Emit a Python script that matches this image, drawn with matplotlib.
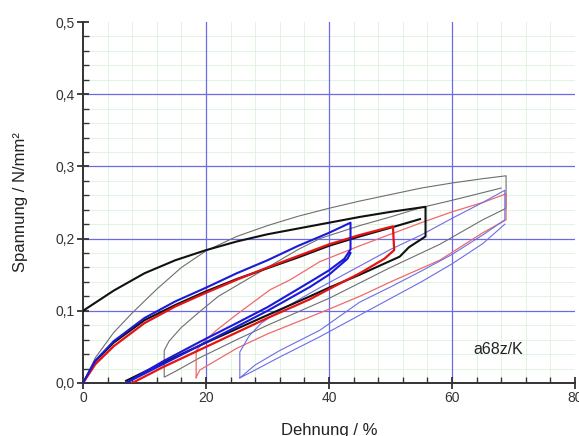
import numpy as np
import matplotlib.pyplot as plt
from matplotlib.ticker import MultipleLocator, FuncFormatter

plt.rcParams['font.family'] = ['Liberation Sans', 'DejaVu Sans']

# Kurven (Dehnung in %, Spannung in N/mm²)
schwarz_x = [0, 5, 10, 15, 20, 25, 30, 35, 40, 45, 50, 55.7, 55.7, 53, 51.5, 45, 40, 36.9, 30, 25, 19, 13, 7]
schwarz_y = [0.100, 0.128, 0.152, 0.170, 0.184, 0.196, 0.206, 0.214, 0.222, 0.230, 0.237, 0.244,
             0.203, 0.188, 0.175, 0.150, 0.132, 0.120, 0.094, 0.075, 0.052, 0.028, 0.003]
schwarz2_x = [0, 2, 5, 10, 15, 20, 25, 30, 35, 40, 45, 50, 54.8]
schwarz2_y = [0, 0.030, 0.056, 0.087, 0.108, 0.127, 0.144, 0.159, 0.174, 0.190, 0.203, 0.215, 0.227]

blau_x = [0, 2, 5, 10, 15, 20, 25, 30, 35, 40, 43.5, 43.5, 42.5, 40, 36.9, 30, 25, 19, 13, 7,
          13, 19, 25, 30, 36.9, 40, 43, 43.5]
blau_y = [0, 0.031, 0.058, 0.090, 0.113, 0.132, 0.152, 0.170, 0.190, 0.208, 0.222, 0.185, 0.172,
          0.156, 0.140, 0.105, 0.083, 0.057, 0.030, 0.0,
          0.026, 0.052, 0.078, 0.100, 0.133, 0.150, 0.172, 0.180]

rot_x = [0, 2, 5, 10, 15, 20, 25, 30, 35, 40, 45, 50.4, 50.6, 49, 45, 40, 36.9, 30, 25, 19, 13, 8]
rot_y = [0, 0.026, 0.051, 0.083, 0.106, 0.125, 0.143, 0.160, 0.176, 0.192, 0.205, 0.217,
         0.184, 0.172, 0.152, 0.130, 0.116, 0.090, 0.070, 0.046, 0.022, 0.0]

grau_x = [0, 2, 5, 8, 12, 16, 20, 25, 30, 35, 40, 45, 50, 55, 60, 65, 68.8, 68.8, 65, 58, 50, 40.2,
          30, 25, 19, 15, 13.2, 13.2, 14, 16, 19, 22, 26.6, 30, 35, 38.5, 45, 50, 55, 60, 68]
grau_y = [0, 0.035, 0.070, 0.097, 0.130, 0.160, 0.183, 0.203, 0.218, 0.231, 0.242, 0.252, 0.261,
          0.270, 0.277, 0.283, 0.287, 0.242, 0.226, 0.192, 0.160, 0.118, 0.080, 0.060, 0.035,
          0.016, 0.008, 0.045, 0.058, 0.077, 0.099, 0.120, 0.143, 0.160, 0.185, 0.200, 0.218,
          0.230, 0.243, 0.253, 0.270]

rosa_x = [18.4, 18.4, 20, 21.7, 25, 30.4, 33.7, 38.5, 45, 50, 55, 60, 65, 68.8, 68.8, 65, 58, 50,
          45, 38.5, 30, 25, 19, 18.4]
rosa_y = [0.007, 0.045, 0.060, 0.073, 0.095, 0.129, 0.143, 0.168, 0.190, 0.206, 0.222, 0.237,
          0.250, 0.262, 0.226, 0.208, 0.170, 0.140, 0.120, 0.097, 0.068, 0.048, 0.018, 0.008]

hellblau_x = [25.5, 25.5, 27, 29, 32, 35, 38.5, 45, 50, 55, 60, 65, 68.6, 68.6, 65, 60, 55, 50, 45,
              38.5, 32, 28, 25.5, 28, 32, 38.5, 45, 50, 55, 60, 65, 68.6]
hellblau_y = [0.007, 0.043, 0.065, 0.083, 0.100, 0.115, 0.132, 0.162, 0.185, 0.205, 0.228, 0.250,
              0.267, 0.226, 0.205, 0.178, 0.155, 0.133, 0.112, 0.073, 0.045, 0.025, 0.007,
              0.018, 0.036, 0.064, 0.094, 0.117, 0.140, 0.165, 0.193, 0.220]

x_haupt = [20, 40, 60]
y_haupt = [0.1, 0.2, 0.3, 0.4]

fig = plt.figure(figsize=(5.79, 4.36), dpi=100)
ax = fig.add_axes([0.1434, 0.1216, 0.8496, 0.8279])

ax.set_xlim(0, 80)
ax.set_ylim(0, 0.5)

# Gitter
for xv in np.arange(4, 80, 4):
    ax.axvline(xv, color='#dcf2dc', lw=0.6, zorder=0)
for yv in np.arange(0.02, 0.5, 0.02):
    ax.axhline(yv, color='#dcf2dc', lw=0.6, zorder=0)
for xv in x_haupt:
    ax.axvline(xv, color='#6a6ae6', lw=0.9, zorder=1)
for yv in y_haupt:
    ax.axhline(yv, color='#6a6ae6', lw=0.9, zorder=1)

# Kurven
ax.plot(grau_x, grau_y, color='#6e6e6e', lw=0.8, zorder=3)
ax.plot(rosa_x, rosa_y, color='#ee6a6a', lw=0.9, zorder=3)
ax.plot(hellblau_x, hellblau_y, color='#6c6ce8', lw=0.8, zorder=3)
ax.plot(schwarz_x, schwarz_y, color='#111111', lw=1.5, zorder=4)
ax.plot(schwarz2_x, schwarz2_y, color='#111111', lw=1.5, zorder=4)
ax.plot(rot_x, rot_y, color='#e41414', lw=1.6, zorder=5)
ax.plot(blau_x, blau_y, color='#1a1ad8', lw=1.5, zorder=6)

ax.text(63.5, 0.046, 'a68z/K', fontsize=11.5, color='#222222', ha='left', va='center')

# Achsen
for s in ['top', 'right']:
    ax.spines[s].set_visible(False)
for s in ['left', 'bottom']:
    ax.spines[s].set_color('#333333')
    ax.spines[s].set_linewidth(1.4)

ax.xaxis.set_major_locator(MultipleLocator(20))
ax.xaxis.set_minor_locator(MultipleLocator(4))
ax.yaxis.set_major_locator(MultipleLocator(0.1))
ax.yaxis.set_minor_locator(MultipleLocator(0.02))
ax.yaxis.set_major_formatter(FuncFormatter(lambda v, p: f'{v:.1f}'.replace('.', ',')))
ax.tick_params(which='major', direction='inout', length=8, width=1.3, color='#333333',
               labelsize=10, labelcolor='#333333', pad=2)
ax.tick_params(which='minor', direction='in', length=4, width=1.0, color='#333333')

ax.set_xlabel('Dehnung / %', fontsize=12, color='#222222')
ax.xaxis.set_label_coords(0.5, -0.11)
ax.set_ylabel('Spannung / N/mm²', fontsize=12, color='#222222')
ax.yaxis.set_label_coords(-0.112, 0.5)

fig.savefig('out.png', dpi=100)
